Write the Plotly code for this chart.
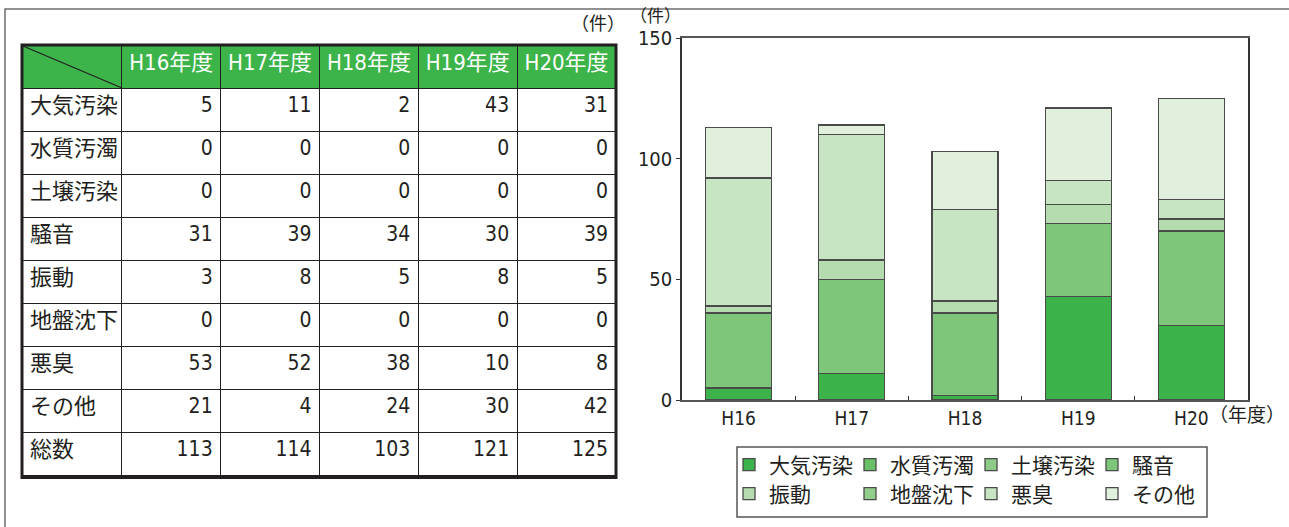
import plotly.graph_objects as go

# ---------------- data ----------------
years = ["H16", "H17", "H18", "H19", "H20"]
year_headers = ["H16年度", "H17年度", "H18年度", "H19年度", "H20年度"]
categories = ["大気汚染", "水質汚濁", "土壌汚染", "騒音", "振動", "地盤沈下", "悪臭", "その他"]
air = [5, 11, 2, 43, 31]
water = [0, 0, 0, 0, 0]
soil = [0, 0, 0, 0, 0]
noise = [31, 39, 34, 30, 39]
vibration = [3, 8, 5, 8, 5]
subsidence = [0, 0, 0, 0, 0]
odor = [53, 52, 38, 10, 8]
other = [21, 4, 24, 30, 42]
total_label = "総数"
y_ticks = [0, 50, 100, 150]

series = [air, water, soil, noise, vibration, subsidence, odor, other]
colors = ["#3bb34a", "#6cbf69", "#8fcb88", "#7ec67a", "#b4dcae", "#93cf8c", "#c7e4c3", "#e0f0dd"]
totals = [sum(v) for v in zip(*series)]

W, H = 1289, 527
def px(x):
    return x / W
def py(y):
    return 1 - y / H

NARROW = "Liberation Sans Narrow, DejaVu Sans Condensed, Liberation Sans, Noto Sans CJK JP, sans-serif"
CJK = "Noto Sans CJK JP, sans-serif"
TXT = "#231f20"

fig = go.Figure()

# ---------------- table ----------------
row_labels = categories + [total_label]
col_cells = [row_labels]
for j in range(len(years)):
    col_cells.append([s[j] for s in series] + [totals[j]])

fig.add_trace(go.Table(
    domain=dict(x=[px(22), px(616)], y=[py(505), py(45)]),
    columnwidth=[100, 99, 99, 99, 99, 99],
    header=dict(
        values=[""] + year_headers,
        fill_color="#3cb44a",
        line=dict(color=TXT, width=1),
        align="center",
        height=43,
        font=dict(family=NARROW, size=22, color="white"),
    ),
    cells=dict(
        values=col_cells,
        fill_color="white",
        line=dict(color=TXT, width=1),
        align=["left"] + ["right"] * 5,
        height=43,
        font=dict(family=NARROW, size=[22, 21, 21, 21, 21, 21], color=TXT),
    ),
))

# ---------------- bars ----------------
for i, (name, vals, col) in enumerate(zip(categories, series, colors)):
    fig.add_trace(go.Bar(
        x=years, y=vals, name=name,
        marker=dict(color=col, line=dict(color="#4a4a4a", width=1.3)),
        legend="legend" if i < 4 else "legend2",
        xaxis="x", yaxis="y",
    ))

fig.update_layout(
    width=W, height=H,
    margin=dict(l=0, r=0, t=0, b=0, autoexpand=False),
    paper_bgcolor="white", plot_bgcolor="white",
    barmode="stack", bargap=0.417,
    font=dict(family=NARROW, color=TXT),
    xaxis=dict(
        domain=[px(682), px(1248)],
        anchor="y", automargin=False,
        tickfont=dict(family=NARROW, size=19, color=TXT),
        ticks="inside", tickson="boundaries", ticklen=4, tickcolor="#333",
        showline=True, linecolor="#555", linewidth=1.5, mirror=True,
        showgrid=False,
    ),
    yaxis=dict(
        domain=[py(400), py(38)],
        anchor="x", automargin=False,
        range=[0, 150], tickvals=y_ticks,
        tickfont=dict(family=NARROW, size=20, color=TXT),
        ticks="outside", ticklen=4, tickcolor="#333",
        showline=True, linecolor="#333", linewidth=1.5, mirror=True,
        showgrid=False, zeroline=False,
    ),
    legend=dict(
        orientation="h", x=px(729), y=py(465), xanchor="left", yanchor="middle",
        entrywidth=76, entrywidthmode="pixels",
        bgcolor="rgba(0,0,0,0)", borderwidth=0,
        font=dict(family=CJK, size=21, color=TXT),
        traceorder="normal",
    ),
    legend2=dict(
        orientation="h", x=px(729), y=py(494), xanchor="left", yanchor="middle",
        entrywidth=76, entrywidthmode="pixels",
        bgcolor="rgba(0,0,0,0)", borderwidth=0,
        font=dict(family=CJK, size=21, color=TXT),
        traceorder="normal",
    ),
    showlegend=True,
)

# ---------------- frames and decorations ----------------
shapes = [
    # outer frame (extends beyond the page on right/bottom)
    dict(type="rect", xref="paper", yref="paper", x0=px(5), x1=px(1300), y0=py(540), y1=py(9),
         line=dict(color="#6d6d6d", width=1.5), fillcolor="rgba(0,0,0,0)", layer="above"),
    # table thick border
    dict(type="rect", xref="paper", yref="paper", x0=px(22), x1=px(616), y0=py(477.5), y1=py(45),
         line=dict(color=TXT, width=3), fillcolor="rgba(0,0,0,0)", layer="above"),
    # diagonal in the table corner
    dict(type="line", xref="paper", yref="paper", x0=px(23), y0=py(46), x1=px(122), y1=py(88),
         line=dict(color=TXT, width=1.2), layer="above"),
    # legend box
    dict(type="rect", xref="paper", yref="paper", x0=px(737), x1=px(1207), y0=py(517), y1=py(447),
         line=dict(color="#555", width=1.5), fillcolor="rgba(0,0,0,0)", layer="below"),
]
fig.update_layout(shapes=shapes)

annotations = [
    dict(text="（件）", x=px(598), y=py(22), xref="paper", yref="paper", showarrow=False,
         xanchor="center", yanchor="middle", font=dict(family=CJK, size=18, color=TXT)),
    dict(text="（件）", x=px(655), y=py(15), xref="paper", yref="paper", showarrow=False,
         xanchor="center", yanchor="middle", font=dict(family=CJK, size=17, color=TXT)),
    dict(text="（年度）", x=px(1207), y=py(413), xref="paper", yref="paper", showarrow=False,
         xanchor="left", yanchor="middle", font=dict(family=CJK, size=19, color=TXT)),
]
fig.update_layout(annotations=annotations)

fig.write_html("out.html", config={"displayModeBar": False},
               post_script="document.body.style.margin='0';")
